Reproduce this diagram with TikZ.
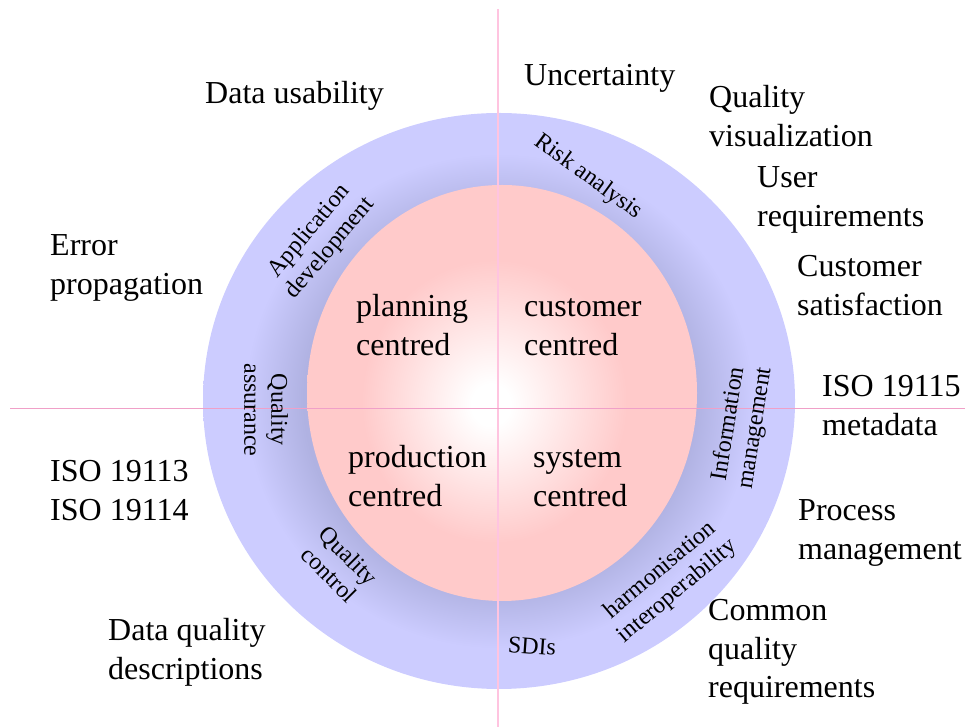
\documentclass[tikz,border=0pt]{standalone}
\usepackage{fontspec}
\setmainfont{Liberation Serif}
\usetikzlibrary{positioning}
\definecolor{ringlight}{RGB}{204,204,255}
\definecolor{ringdark}{RGB}{176,178,226}
\definecolor{corepink}{RGB}{255,202,202}
\definecolor{axispink}{RGB}{240,160,200}
\definecolor{axislight}{RGB}{255,196,224}
\pgfdeclareradialshading{ringshade}{\pgfpoint{0bp}{0bp}}{color(0bp)=(ringdark); color(16.5bp)=(ringdark); color(21.5bp)=(ringlight); color(25bp)=(ringlight); color(50bp)=(ringlight)}
\pgfdeclareradialshading{coreshade}{\pgfpoint{-1.5bp}{-1.5bp}}{color(0bp)=(white); color(2.5bp)=(white); color(17bp)=(corepink); color(25bp)=(corepink); color(50bp)=(corepink)}
\begin{document}
\begin{tikzpicture}[x=1pt, y=1pt,
        outerlabel/.style={font=\fontsize{32}{38.4}\selectfont, align=left, anchor=base west, inner sep=0pt},
        corelabel/.style={outerlabel},
        ringlabel/.style={font=\fontsize{24}{27}\selectfont, align=center, inner sep=0pt}]
    \useasboundingbox (0,0) rectangle (965,727);
    \shade[shading=ringshade] (499,326) ellipse [x radius=296, y radius=288];
    \shade[shading=coreshade] (502,334) ellipse [x radius=195, y radius=208];
    \coordinate (axtop) at (498,718);
    \coordinate (axbottom) at (498,0);
    \coordinate (axleft) at (10,318);
    \coordinate (axright) at (965,318);
    \draw[axislight, line width=1.5pt] (axtop) -- (axbottom);
    \draw[axispink, line width=1pt] (axleft) -- (axright);
    \node[outerlabel] (datausability) at (205,623) {Data usability};
    \node[outerlabel] (uncertainty) at (524,641) {Uncertainty};
    \node[outerlabel] (qualityvis) at (709,580.6) {Quality\\visualization};
    \node[outerlabel] (userreq) at (757,500.6) {User\\requirements};
    \node[outerlabel] (custsat) at (797,411.6) {Customer\\satisfaction};
    \node[outerlabel] (errorprop) at (50,432.6) {Error\\propagation};
    \node[outerlabel] (isometa) at (822,291.6) {ISO 19115\\metadata};
    \node[outerlabel] (isodq) at (50,206.6) {ISO 19113\\ISO 19114};
    \node[outerlabel] (processman) at (798,167.6) {Process\\management};
    \node[outerlabel] (commonreq) at (708,29.2) {Common\\quality\\requirements};
    \node[outerlabel] (dqdesc) at (108,47.6) {Data quality\\descriptions};
    \node[corelabel] (planning) at (356,371.6) {planning\\centred};
    \node[corelabel] (customer) at (524,371.6) {customer\\centred};
    \node[corelabel] (production) at (348,220.6) {production\\centred};
    \node[corelabel] (system) at (533,220.6) {system\\centred};
    \node[ringlabel, rotate=50] (appdev) at (320,487) {Application\\development};
    \node[ringlabel, rotate=-90] (qassurance) at (266,317) {Quality\\assurance};
    \node[ringlabel, rotate=-36] (risk) at (588,550) {Risk analysis};
    \node[ringlabel, rotate=81] (infoman) at (742,301) {Information\\management};
    \node[ringlabel, rotate=-45] (qcontrol) at (339,162) {Quality\\control};
    \node[ringlabel, rotate=-4] (sdis) at (532,81) {SDIs};
    \node[ringlabel, rotate=40] (harmon) at (669,146) {harmonisation\\interoperability};
\end{tikzpicture}
\end{document}
